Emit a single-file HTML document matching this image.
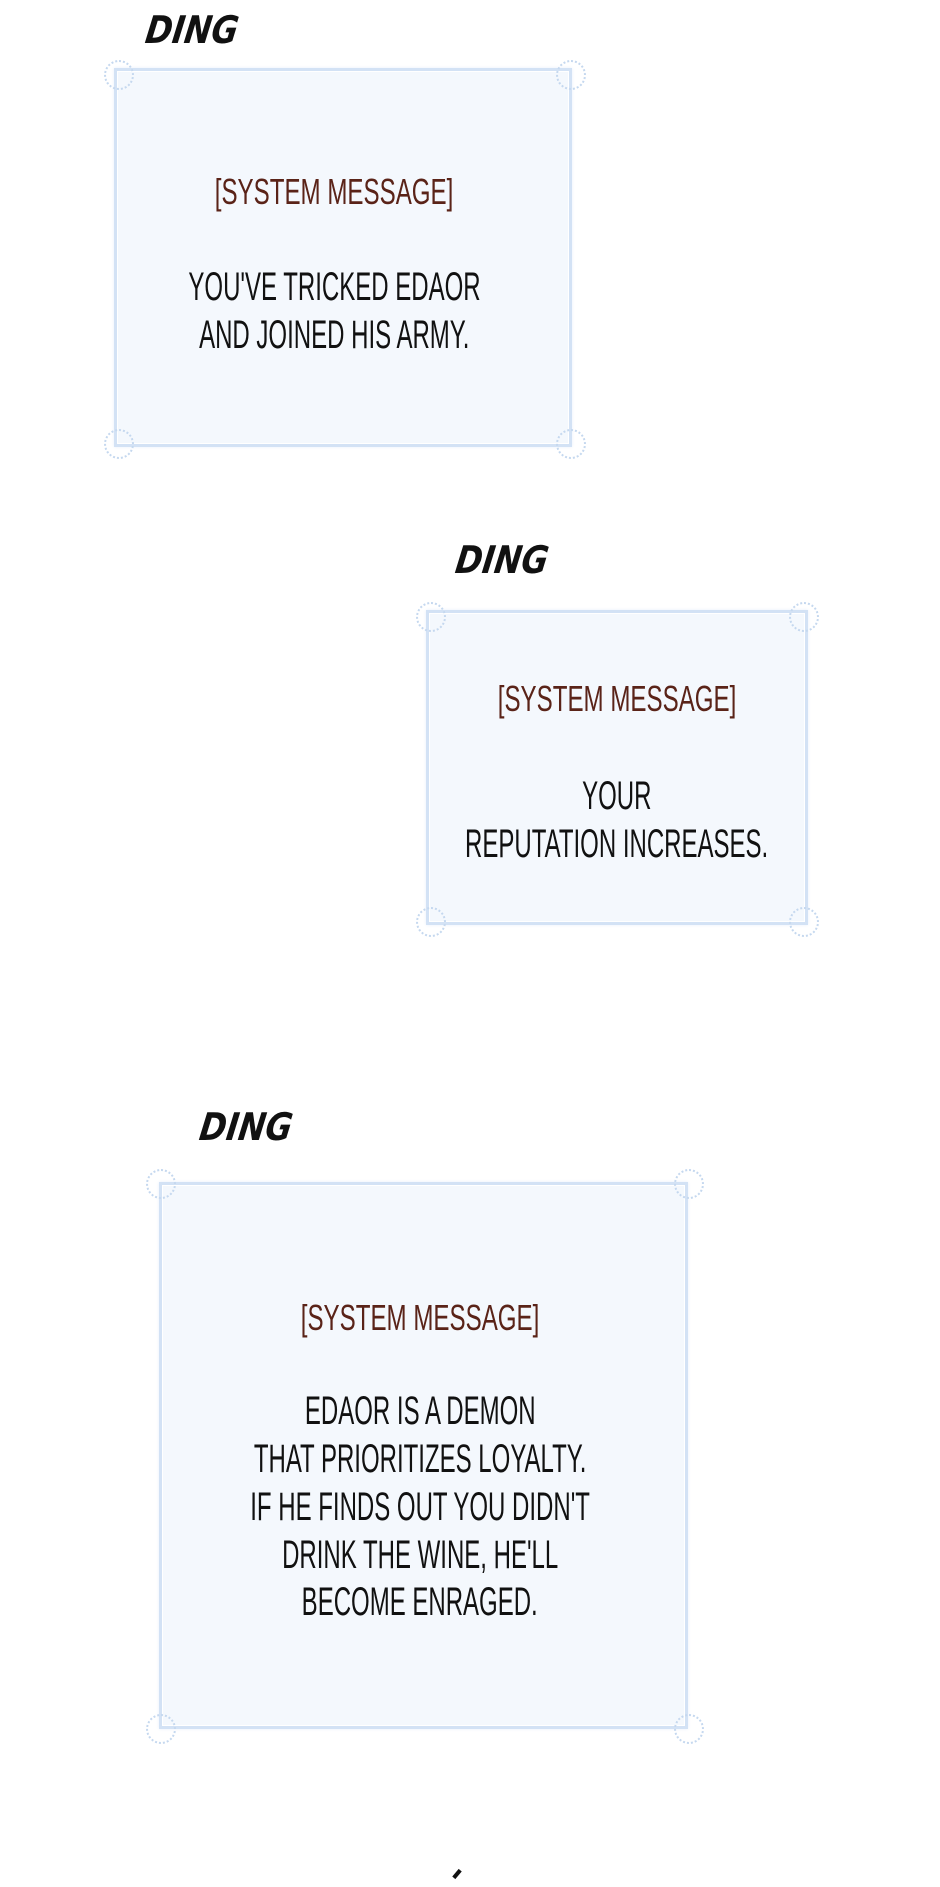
<!DOCTYPE html>
<html><head><meta charset="utf-8"><style>
body{margin:0;background:#fff;width:940px;height:1887px;position:relative;overflow:hidden;font-family:"Liberation Sans",sans-serif}
.box{position:absolute;background:#f4f8fd}
.frame{position:absolute;border:3px solid #d3e2f5;box-shadow:0 0 3px #e6eefa}
.orn{position:absolute;width:26px;height:26px;border:2px dotted #c5d8ef;border-radius:50%}
.t{position:absolute;width:800px;text-align:center;white-space:nowrap}
.t span{display:inline-block;transform-origin:center}
.title{color:#5a2318;font-size:36px}
.title span{transform:scaleX(0.67)}
.body{color:#111;font-size:40px}
.body span{transform:scaleX(0.6)}
.ding{position:absolute;font-family:"DejaVu Sans",sans-serif;font-weight:bold;font-style:italic;font-size:38px;color:#111;transform:skewX(-8deg) scaleX(0.85);transform-origin:left}
</style></head><body>

<div class="ding" style="left:146px;top:8px">DING</div>
<div class="box" style="left:118px;top:72px;width:450px;height:371px"></div>
<div class="frame" style="left:114px;top:68px;width:452px;height:373px"></div>
<div class="orn" style="left:104px;top:60px"></div><div class="orn" style="left:556px;top:60px"></div>
<div class="orn" style="left:104px;top:429px"></div><div class="orn" style="left:556px;top:429px"></div>
<div class="t title" style="left:-66px;top:171px"><span>[SYSTEM MESSAGE]</span></div>
<div class="t body" style="left:-66px;top:265px"><span>YOU'VE TRICKED EDAOR</span></div>
<div class="t body" style="left:-66px;top:313px"><span>AND JOINED HIS ARMY.</span></div>

<div class="ding" style="left:456px;top:538px">DING</div>
<div class="box" style="left:430px;top:614px;width:374px;height:307px"></div>
<div class="frame" style="left:426px;top:610px;width:376px;height:309px"></div>
<div class="orn" style="left:416px;top:602px"></div><div class="orn" style="left:789px;top:602px"></div>
<div class="orn" style="left:416px;top:907px"></div><div class="orn" style="left:789px;top:907px"></div>
<div class="t title" style="left:217px;top:678px"><span>[SYSTEM MESSAGE]</span></div>
<div class="t body" style="left:217px;top:774px"><span>YOUR</span></div>
<div class="t body" style="left:217px;top:822px"><span>REPUTATION INCREASES.</span></div>

<div class="ding" style="left:200px;top:1105px">DING</div>
<div class="box" style="left:163px;top:1186px;width:521px;height:539px"></div>
<div class="frame" style="left:159px;top:1182px;width:523px;height:541px"></div>
<div class="orn" style="left:146px;top:1169px"></div><div class="orn" style="left:674px;top:1169px"></div>
<div class="orn" style="left:146px;top:1714px"></div><div class="orn" style="left:674px;top:1714px"></div>
<div class="t title" style="left:20px;top:1297px"><span>[SYSTEM MESSAGE]</span></div>
<div class="t body" style="left:20px;top:1389px"><span>EDAOR IS A DEMON</span></div>
<div class="t body" style="left:20px;top:1437px"><span>THAT PRIORITIZES LOYALTY.</span></div>
<div class="t body" style="left:20px;top:1485px"><span>IF HE FINDS OUT YOU DIDN'T</span></div>
<div class="t body" style="left:20px;top:1533px"><span>DRINK THE WINE, HE'LL</span></div>
<div class="t body" style="left:20px;top:1580px"><span>BECOME ENRAGED.</span></div>

<div style="position:absolute;left:452px;top:1872px;width:10px;height:4px;background:#111;transform:rotate(-50deg)"></div>
</body></html>
